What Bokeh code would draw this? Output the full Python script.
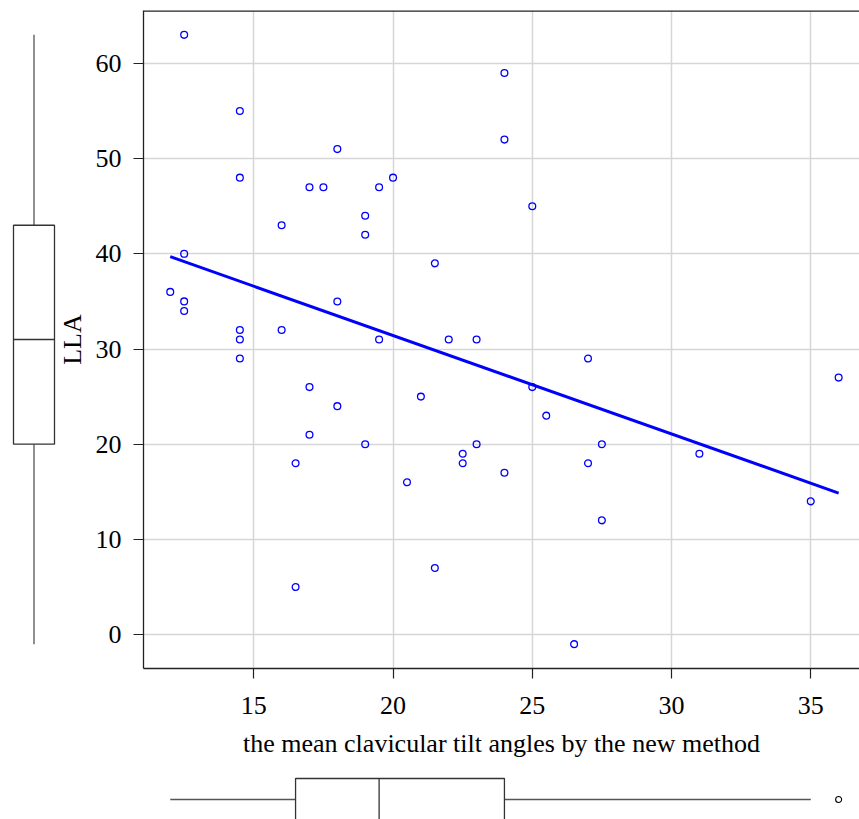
import numpy as np
from bokeh.plotting import figure
from bokeh.layouts import column, row
from bokeh.models import Range1d, Span, Label
from bokeh.embed import file_html
from bokeh.resources import INLINE

# ---- data ----
tilt = [12.5, 14.5, 14.5, 18, 17, 17.5, 19.5, 20, 19, 19, 16, 12.5, 12, 12.5, 12.5,
        14.5, 14.5, 14.5, 16, 18, 19.5, 21.5, 22, 23, 24, 24, 25, 17, 18, 17, 19,
        16.5, 21, 20.5, 22.5, 22.5, 23, 24, 25, 25.5, 27, 27.5, 27, 27.5, 31, 35, 36,
        16.5, 21.5, 26.5]
lla = [63, 55, 48, 51, 47, 47, 47, 48, 44, 42, 43, 40, 36, 35, 34, 32, 31, 29, 32,
       35, 31, 39, 31, 31, 59, 52, 45, 26, 24, 21, 20, 18, 25, 16, 19, 18, 20, 17,
       26, 23, 29, 20, 18, 12, 19, 14, 27, 5, 7, -1]
x_ticks = [15, 20, 25, 30, 35]
y_ticks = [0, 10, 20, 30, 40, 50, 60]
x_label = "the mean clavicular tilt angles by the new method"
y_label = "LLA"

FONT = "Liberation Serif"
FS = "26px"
BLUE = "#0000ff"
GRID = "#d6d6d6"
DARK = "#222222"


def box_stats(v, coef=1.5):
    s = np.sort(np.asarray(v, float))
    n = len(s)
    n4 = np.floor((n + 3) / 2) / 2
    d = np.array([1, n4, (n + 1) / 2, n + 1 - n4, n])
    st = 0.5 * (s[np.floor(d - 1).astype(int)] + s[np.ceil(d - 1).astype(int)])
    iqr = st[3] - st[1]
    inside = s[(s >= st[1] - coef * iqr) & (s <= st[3] + coef * iqr)]
    out = s[(s < st[1] - coef * iqr) | (s > st[3] + coef * iqr)]
    return inside.min(), st[1], st[2], st[3], inside.max(), out


xmin, xmax = min(tilt), max(tilt)
ymin, ymax = min(lla), max(lla)
x0 = xmin - 0.04 * (xmax - xmin)
xr = Range1d(x0, x0 + 716 / 27.85)
yr = Range1d(ymin - 0.04 * (ymax - ymin), ymax + 0.04 * (ymax - ymin))

LW = 92          # width of the left boxplot panel (holds the y title too)
H = 770          # height of the main row
TOP = 10
BOT = 102

# ---- main scatter ----
p = figure(width=859 - LW, height=H, x_range=xr, y_range=yr, output_backend="svg",
           toolbar_location=None, min_border_left=143 - LW, min_border_right=0,
           min_border_top=TOP, min_border_bottom=BOT)
p.outline_line_color = None
p.background_fill_color = "white"
p.border_fill_color = "white"

for ax in (p.xaxis[0], p.yaxis[0]):
    ax.major_tick_out = 10
    ax.major_tick_in = 0
    ax.minor_tick_line_color = None
    ax.axis_line_color = DARK
    ax.axis_line_width = 1.3
    ax.major_tick_line_color = DARK
    ax.major_tick_line_width = 1.2
    ax.major_label_text_font = FONT
    ax.major_label_text_font_size = FS
    ax.major_label_text_color = "black"
    ax.axis_label_text_font = FONT
    ax.axis_label_text_font_size = FS
    ax.axis_label_text_font_style = "normal"
    ax.axis_label_text_color = "black"

p.xaxis.ticker = x_ticks
p.yaxis.ticker = y_ticks
p.xaxis.axis_label = x_label
p.xaxis.major_label_standoff = 18
p.xaxis.axis_label_standoff = 12
p.yaxis.major_label_standoff = 12

p.xgrid.ticker = x_ticks
p.ygrid.ticker = y_ticks
p.grid.grid_line_color = GRID
p.grid.grid_line_width = 1.5

p.add_layout(Span(location=yr.end, dimension="width", line_color=DARK, line_width=2.5))

coef = np.polyfit(tilt, lla, 1)
lx = np.array([xmin, xmax])
p.line(lx, np.polyval(coef, lx), line_color=BLUE, line_width=3)
p.scatter(tilt, lla, marker="circle", size=6.8, fill_color=None,
          line_color=BLUE, line_width=1.3)

# ---- left boxplot (LLA) + y axis title ----
ylo, yq1, ymed, yq3, yhi, yout = box_stats(lla)
bx0 = -13 / 41
left = figure(width=LW, height=H, x_range=Range1d(bx0, bx0 + LW / 41), y_range=yr,
              output_backend="svg", toolbar_location=None,
              x_axis_type=None, y_axis_type=None,
              min_border_left=0, min_border_right=0,
              min_border_top=TOP, min_border_bottom=BOT)
left.outline_line_color = None
left.segment(x0=[0.5, 0.5], y0=[ylo, yq3], x1=[0.5, 0.5], y1=[yq1, yhi],
             line_color="#555555", line_width=1.3)
left.quad(left=[0], right=[1], bottom=[yq1], top=[yq3], fill_color=None,
          line_color="#333333", line_width=1.3)
left.segment(x0=[0], y0=[ymed], x1=[1], y1=[ymed], line_color="#333333", line_width=1.3)
if len(yout):
    left.scatter([0.5] * len(yout), list(yout), marker="circle", size=6,
                 fill_color=None, line_color="black")
left.add_layout(Label(x=bx0 + 72 / 41, y=(yr.start + yr.end) / 2, text=y_label,
                      angle=np.pi / 2, text_align="center", text_baseline="alphabetic",
                      text_font=FONT, text_font_size=FS, text_color="black"))

# ---- bottom boxplot (tilt) ----
xlo, xq1, xmed, xq3, xhi, xout = box_stats(tilt)
bottom = figure(width=859, height=819 - H, x_range=xr,
                y_range=Range1d(1 - 41 / 42, 1 + 8 / 42),
                output_backend="svg", toolbar_location=None,
                x_axis_type=None, y_axis_type=None,
                min_border_left=143, min_border_right=0,
                min_border_top=0, min_border_bottom=0)
bottom.outline_line_color = None
bottom.segment(x0=[xlo, xq3], y0=[0.5, 0.5], x1=[xq1, xhi], y1=[0.5, 0.5],
               line_color="#555555", line_width=1.3)
bottom.quad(left=[xq1], right=[xq3], bottom=[0], top=[1], fill_color=None,
            line_color="#333333", line_width=1.3)
bottom.segment(x0=[xmed], y0=[0], x1=[xmed], y1=[1], line_color="#333333", line_width=1.3)
if len(xout):
    bottom.scatter(list(xout), [0.5] * len(xout), marker="circle", size=6,
                   fill_color=None, line_color="black", line_width=1.1)

layout = column(row(left, p), bottom)
open("out.html", "w").write(file_html(layout, INLINE))
